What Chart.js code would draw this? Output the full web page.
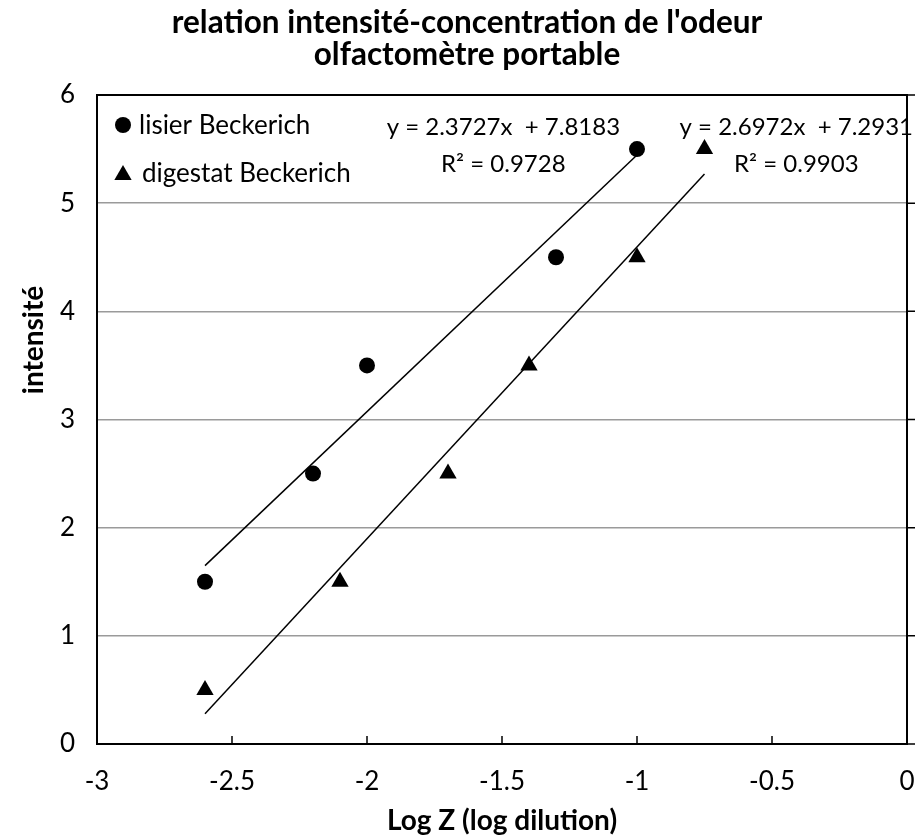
<!DOCTYPE html>
<html>
<head>
<meta charset="utf-8">
<script src="https://cdn.jsdelivr.net/npm/chart.js@4.4.0/dist/chart.umd.min.js"></script>
<style>
  html, body { margin: 0; padding: 0; background: #fff; }
</style>
</head>
<body>
<canvas id="chart1" width="923" height="838"></canvas>
<script>
// measured points
var lisierX = [-2.6, -2.2, -2.0, -1.3, -1.0];
var lisierY = [1.5, 2.5, 3.5, 4.5, 5.5];
var digestatX = [-2.6, -2.1, -1.7, -1.4, -1.0, -0.75];
var digestatY = [0.5, 1.5, 2.5, 3.5, 4.5, 5.5];

// linear trendlines (slope, intercept, R²)
var lisierFit = [2.3727, 7.8183, 0.9728];
var digestatFit = [2.6972, 7.2931, 0.9903];

var xTicks = [-3, -2.5, -2, -1.5, -1, -0.5, 0];
var yTicks = [0, 1, 2, 3, 4, 5, 6];

var FONT = 'Lato, "Liberation Sans", sans-serif';

function toPoints(xs, ys) {
    return xs.map(function (x, i) { return { x: x, y: ys[i] }; });
}

function fitLine(xs, fit) {
    var lo = Math.min.apply(null, xs), hi = Math.max.apply(null, xs);
    return [{ x: lo, y: fit[0] * lo + fit[1] }, { x: hi, y: fit[0] * hi + fit[1] }];
}

function eqText(fit) {
    return ['y = ' + fit[0].toFixed(4) + 'x  + ' + fit[1].toFixed(4), 'R\u00b2 = ' + fit[2].toFixed(4)];
}

// title, legend, frame, y title and trendline labels
var decor = {
    id: 'decor',
    beforeDatasetsDraw: function (chart) {
        var ctx = chart.ctx, a = chart.chartArea;
        var xs = chart.scales.x, ys = chart.scales.y;
        ctx.save();
        ctx.strokeStyle = '#000';
        ctx.lineWidth = 2;
        ctx.strokeRect(a.left, a.top, a.right - a.left, a.bottom - a.top);
        ctx.lineWidth = 1.5;
        ctx.beginPath();
        xTicks.forEach(function (v) {
            var px = xs.getPixelForValue(v);
            ctx.moveTo(px, a.bottom);
            ctx.lineTo(px, a.bottom - 8);
        });
        yTicks.forEach(function (v) {
            var py = ys.getPixelForValue(v);
            ctx.moveTo(a.right, py);
            ctx.lineTo(a.right + 8, py);
        });
        ctx.stroke();
        ctx.restore();
    },
    afterDraw: function (chart) {
        var ctx = chart.ctx, a = chart.chartArea;
        var xs = chart.scales.x, ys = chart.scales.y;
        ctx.save();
        ctx.fillStyle = '#000';
        ctx.textAlign = 'center';
        ctx.textBaseline = 'alphabetic';

        ctx.font = 'bold 31.5px ' + FONT;
        ctx.fillText("relation intensit\u00e9-concentration de l'odeur", 467, 33);
        ctx.fillText('olfactom\u00e8tre portable', 467, 65);

        // y axis title
        ctx.save();
        ctx.translate(43, 340);
        ctx.rotate(-Math.PI / 2);
        ctx.font = 'bold 28px ' + FONT;
        ctx.fillText('intensit\u00e9', 0, 0);
        ctx.restore();

        // legend, top-left inside the plot
        ctx.font = '26px ' + FONT;
        ctx.textAlign = 'left';
        ctx.textBaseline = 'middle';
        var items = chart.data.datasets.filter(function (d) { return d.inLegend; });
        items.forEach(function (d, i) {
            var cy = a.top + 30 + i * 48;
            var cx = a.left + 26;
            var tri = d.pointStyle === 'triangle';
            Chart.helpers.drawPoint(ctx, { pointStyle: d.pointStyle, radius: tri ? 10 : 8, rotation: 0 }, cx, cy + (tri ? 2 : 0));
            ctx.fillText(d.label, cx + (tri ? 19 : 16), cy + 1);
        });

        // trendline equations
        ctx.textAlign = 'center';
        ctx.textBaseline = 'alphabetic';
        ctx.font = '24px ' + FONT;
        [[lisierFit, -1.495], [digestatFit, -0.41]].forEach(function (f) {
            var lines = eqText(f[0]);
            var px = xs.getPixelForValue(f[1]);
            ctx.fillText(lines[0], px, ys.getPixelForValue(5.63));
            ctx.fillText(lines[1], px, ys.getPixelForValue(5.29));
        });
        ctx.restore();
    }
};

var ctx1 = document.getElementById('chart1').getContext('2d');
var chart1 = new Chart(ctx1, {
    type: 'scatter',
    data: {
        datasets: [{
            label: 'lisier Beckerich',
            inLegend: true,
            data: toPoints(lisierX, lisierY),
            pointStyle: 'circle',
            pointRadius: 8,
            pointHoverRadius: 8,
            backgroundColor: '#000',
            borderColor: '#000',
            borderWidth: 0
        }, {
            label: 'digestat Beckerich',
            inLegend: true,
            data: toPoints(digestatX, digestatY),
            pointStyle: 'triangle',
            pointRadius: 10,
            pointHoverRadius: 10,
            backgroundColor: '#000',
            borderColor: '#000',
            borderWidth: 0
        }, {
            type: 'line',
            label: 'trend lisier',
            data: fitLine(lisierX, lisierFit),
            borderColor: '#000',
            borderWidth: 1.5,
            pointRadius: 0,
            fill: false
        }, {
            type: 'line',
            label: 'trend digestat',
            data: fitLine(digestatX, digestatFit),
            borderColor: '#000',
            borderWidth: 1.5,
            pointRadius: 0,
            fill: false
        }]
    },
    options: {
        responsive: false,
        animation: false,
        devicePixelRatio: 1,
        layout: { padding: { top: 95, right: 16, left: 0, bottom: 0 } },
        plugins: {
            legend: { display: false },
            tooltip: { enabled: false },
            title: { display: false }
        },
        scales: {
            x: {
                type: 'linear',
                min: -3,
                max: 0,
                afterBuildTicks: function (s) { s.ticks = xTicks.map(function (v) { return { value: v }; }); },
                afterFit: function (s) { s.height = 94; s.paddingLeft = 0; s.paddingRight = 0; },
                ticks: {
                    color: '#000',
                    font: { family: FONT, size: 26 },
                    padding: 14,
                    maxRotation: 0,
                    callback: function (v) { return String(v); }
                },
                grid: { display: false },
                border: { display: false },
                title: {
                    display: true,
                    text: 'Log Z (log dilution)',
                    color: '#000',
                    font: { family: FONT, size: 28, weight: 'bold' },
                    padding: { top: 0, bottom: 0 }
                }
            },
            y: {
                min: 0,
                max: 6,
                afterBuildTicks: function (s) { s.ticks = yTicks.map(function (v) { return { value: v }; }); },
                afterFit: function (s) { s.width = 97; s.paddingTop = 0; s.paddingBottom = 0; },
                ticks: { color: '#000', font: { family: FONT, size: 26 }, padding: 22 },
                grid: { color: '#9a9a9a', lineWidth: 1.5, drawTicks: false },
                border: { display: false }
            }
        }
    },
    plugins: [decor]
});
</script>
</body>
</html>
